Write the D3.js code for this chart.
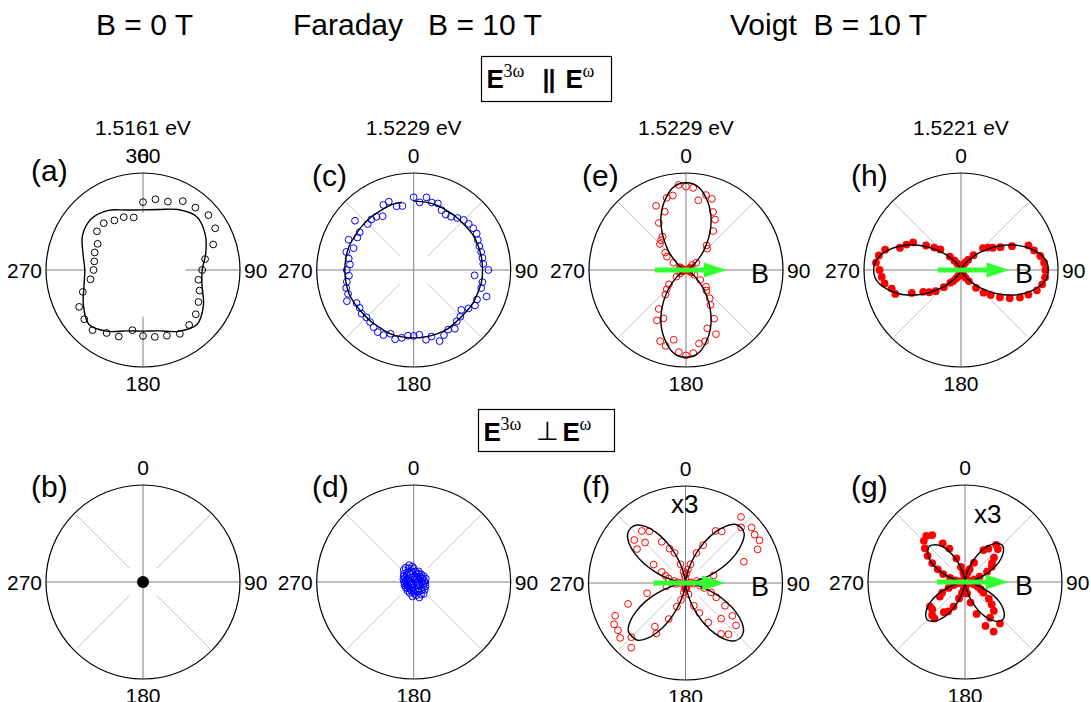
<!DOCTYPE html>
<html><head><meta charset="utf-8">
<script src="https://cdn.jsdelivr.net/npm/d3@7"></script>
<style>
body{margin:0;background:#fff;}
svg text{font-family:"Liberation Sans",Arial,Helvetica,sans-serif;fill:#000;}
</style></head><body>
<svg id="chart" width="1091" height="702" xmlns="http://www.w3.org/2000/svg"></svg>
<script>
// ---------------- data (angle in degrees, radius as fraction of outer ring) ----------------
const ANG10 = [0,10,20,30,40,50,60,70,80,90,100,110,120,130,140,150,160,170,180,190,200,210,220,230,240,250,260,270,280,290,300,310,320,330,340,350];
const ANG15 = [0,15,30,45,60,75,90,105,120,135,150,165,180,195,210,225,240,255,270,285,300,315,330,345];
const ANG5 = [0,5,10,15,20,25,30,35,40,45,50,55,60,65,70,75,80,85,90,95,100,105,110,115,120,125,130,135,140,145,150,155,160,165,170,175,
  180,185,190,195,200,205,210,215,220,225,230,235,240,245,250,255,260,265,270,275,280,285,290,295,300,305,310,315,320,325,330,335,340,345,350,355];

// (a) B = 0 T, parallel
const dataA = [0.70,0.74,0.75,0.82,0.84,0.88,0.86,0.77,0.65,0.61,0.58,0.62,0.66,0.71,0.74,0.76,0.72,0.70,
  0.68,0.63,0.73,0.75,0.81,0.79,0.76,0.66,0.55,0.51,0.51,0.53,0.54,0.62,0.63,0.59,0.58,0.55];
const fitA = [0.62,0.645,0.72,0.78,0.74,0.67,0.61,0.63,0.72,0.79,0.73,0.65,0.63,0.65,0.73,0.79,0.71,0.63,0.60,0.64,0.72,0.75,0.71,0.64];
// (b) B = 0 T, perpendicular
const dataB = [0];
const angB = [0];
// (c) Faraday, parallel
const dataC = [0.75,0.70,0.76,0.72,0.73,0.68,0.66,0.67,0.70,0.73,0.74,0.75,
  0.75,0.73,0.72,0.72,0.72,0.72,0.77,0.63,0.72,0.72,0.80,0.72,
  0.73,0.69,0.64,0.68,0.69,0.74,0.71,0.74,0.78,0.71,0.73,0.67,
  0.68,0.68,0.71,0.74,0.70,0.74,0.74,0.72,0.70,0.69,0.70,0.68,
  0.68,0.76,0.72,0.72,0.70,0.67,0.69,0.66,0.68,0.72,0.66,0.74,
  0.67,0.68,0.79,0.67,0.68,0.67,0.64,0.74,0.75,0.68,0.67,null];
const fitC = [0.71,0.71,0.71,0.70,0.70,0.70,0.71,0.71,0.71,0.71,0.71,0.70,0.70,0.69,0.69,0.70,0.70,0.70,
  0.70,0.70,0.70,0.69,0.69,0.69,0.70,0.71,0.71,0.71,0.71,0.71,0.70,0.70,0.70,0.70,0.71,0.71];
// (d) Faraday, perpendicular
const dataD = [0.14,0.06,0.11,0.03,0.09,0.12,0.05,0.10,0.07,0.11,0.04,0.09,
  0.12,0.06,0.10,0.13,0.05,0.11,0.08,0.12,0.04,0.10,0.13,0.07,
  0.11,0.14,0.06,0.12,0.16,0.09,0.15,0.11,0.17,0.08,0.14,0.12,
  0.10,0.15,0.06,0.09,0.12,0.04,0.08,0.11,0.05,0.09,0.07,0.10,
  0.03,0.08,0.10,0.05,0.09,0.07,0.10,0.04,0.08,0.11,0.06,0.10,
  0.12,0.07,0.13,0.10,0.16,0.12,0.17,0.09,0.15,0.18,0.11,0.16];
// (e) Voigt, parallel, 1.5229 eV
const dataE = [0.86,0.85,0.73,0.80,0.78,0.66,0.60,0.49,0.33,0.31,0.08,0.13,
  0.05,0.04,0.03,0.02,0.02,0.03,0.02,0.03,0.02,0.03,0.04,0.06,
  0.10,0.18,0.27,0.30,0.38,0.44,0.58,0.73,0.64,0.76,0.77,0.86,
  0.88,0.85,0.73,0.81,0.78,0.55,0.60,0.49,0.33,0.28,0.23,0.12,
  0.07,0.04,0.03,0.02,0.03,0.02,0.02,0.03,0.04,0.05,0.06,0.07,
  0.15,0.24,0.28,0.38,0.40,0.42,0.56,0.73,0.64,0.77,0.78,0.88];
const fitE = [0.90,0.89,0.85,0.78,0.70,0.61,0.51,0.41,0.31,0.23,0.15,0.10,0.06,0.03,0.01,0.00,0.00,0.00,
  0.00,0.00,0.00,0.00,0.01,0.03,0.06,0.10,0.15,0.23,0.31,0.41,0.51,0.61,0.70,0.78,0.85,0.89,
  0.90,0.89,0.85,0.78,0.70,0.61,0.51,0.41,0.31,0.23,0.15,0.10,0.06,0.03,0.01,0.00,0.00,0.00,
  0.00,0.00,0.00,0.00,0.01,0.03,0.06,0.10,0.15,0.23,0.31,0.41,0.51,0.61,0.70,0.78,0.85,0.89];
// (f) Voigt, perpendicular, 1.5229 eV (x3)
const dataF = [0.05,0.10,0.14,0.20,0.33,0.43,0.62,0.65,0.89,0.81,0.89,0.87,
  0.88,0.82,0.64,0.30,0.12,0.06,0.04,0.08,0.15,0.20,0.28,0.35,
  0.47,0.59,0.68,0.52,0.69,0.64,0.47,0.34,0.25,0.12,0.06,0.05,
  0.04,0.06,0.10,0.18,0.26,0.41,0.60,0.55,0.87,0.79,0.88,0.85,
  0.85,0.80,0.63,0.41,0.20,0.10,0.05,0.08,0.12,0.18,0.22,0.27,
  0.38,0.61,0.69,0.59,0.70,0.65,0.49,0.39,0.33,0.20,0.12,0.08];
const fitF = [0.00,0.02,0.09,0.20,0.33,0.47,0.60,0.71,0.79,0.81,0.79,0.71,0.60,0.47,0.33,0.20,0.09,0.02,
  0.00,0.02,0.09,0.20,0.33,0.47,0.60,0.71,0.78,0.80,0.78,0.71,0.60,0.47,0.33,0.20,0.09,0.02,
  0.00,0.02,0.09,0.19,0.32,0.46,0.59,0.70,0.77,0.78,0.77,0.70,0.59,0.46,0.32,0.19,0.09,0.02,
  0.00,0.02,0.09,0.20,0.33,0.47,0.60,0.71,0.78,0.80,0.78,0.71,0.60,0.47,0.33,0.20,0.09,0.02];
// (g) Voigt, perpendicular, 1.5221 eV (x3)
const dataG = [0.04,0.05,0.08,0.10,0.14,0.22,0.38,0.42,0.50,0.48,0.39,0.34,
  0.32,0.25,0.16,0.10,0.06,0.04,0.03,0.05,0.07,0.10,0.14,0.18,
  0.22,0.30,0.36,0.42,0.56,0.45,0.59,0.50,0.35,0.22,0.12,0.06,
  0.04,0.05,0.08,0.12,0.18,0.28,0.35,0.38,0.49,0.48,0.44,0.44,
  0.30,0.26,0.18,0.12,0.08,0.05,0.04,0.06,0.10,0.16,0.24,0.31,
  0.39,0.47,0.54,0.60,0.62,0.59,0.46,0.38,0.26,0.16,0.10,0.06];
const fitG = [0.00,0.02,0.06,0.13,0.22,0.31,0.40,0.47,0.52,0.54,0.52,0.47,0.40,0.31,0.22,0.13,0.06,0.02,
  0.00,0.02,0.06,0.13,0.22,0.32,0.41,0.48,0.53,0.55,0.53,0.48,0.41,0.32,0.22,0.13,0.06,0.02,
  0.00,0.02,0.06,0.13,0.22,0.32,0.41,0.48,0.53,0.55,0.53,0.48,0.41,0.32,0.22,0.13,0.06,0.02,
  0.00,0.02,0.06,0.13,0.22,0.31,0.40,0.46,0.50,0.52,0.50,0.46,0.40,0.31,0.22,0.13,0.06,0.02];
// (h) Voigt, parallel, 1.5221 eV
const dataH = [0.02,0.02,0.03,0.03,0.04,0.06,0.09,0.13,0.20,0.32,0.36,0.40,
  0.47,0.58,0.74,0.78,0.83,0.86,0.87,0.87,0.85,0.81,0.74,0.67,
  0.58,0.49,0.40,0.33,0.24,0.14,0.09,0.06,0.04,0.03,0.02,0.02,
  0.02,0.02,0.03,0.03,0.05,0.07,0.10,0.14,0.17,0.25,0.34,0.40,
  0.45,0.56,0.72,0.74,0.80,0.82,0.84,0.88,0.86,0.81,0.67,0.62,
  0.57,0.44,0.36,0.30,0.18,0.12,0.08,0.05,0.03,0.03,0.02,0.02];
const fitH = [0.00,0.00,0.00,0.00,0.01,0.03,0.06,0.10,0.15,0.23,0.31,0.41,0.51,0.61,0.70,0.78,0.85,0.89,
  0.90,0.89,0.85,0.78,0.70,0.61,0.51,0.41,0.31,0.23,0.15,0.10,0.06,0.03,0.01,0.00,0.00,0.00,
  0.00,0.00,0.00,0.00,0.01,0.03,0.06,0.10,0.15,0.23,0.31,0.41,0.51,0.61,0.70,0.78,0.85,0.89,
  0.90,0.89,0.85,0.78,0.70,0.61,0.51,0.41,0.31,0.23,0.15,0.10,0.06,0.03,0.01,0.00,0.00,0.00];

const columnTitles = ["B = 0 T", "Faraday   B = 10 T", "Voigt  B = 10 T"];
const energies = ["1.5161 eV", "1.5229 eV", "1.5229 eV", "1.5221 eV"];
const angleTicks = ["0", "90", "180", "270"];

// ---------------- layout ----------------
const svg = d3.select("#chart");
const R = 97;
const rScale = d3.scaleLinear().domain([0, 1]).range([0, R]);
const aScale = d3.scaleLinear().domain([0, 360]).range([0, 2 * Math.PI]);
const GREEN = "#33ff33";

const panels = [
  {lab:"(a)", cx:143, cy:270, lx:31, ly:181, top:["360","0"], ang:ANG10, r:dataA, mk:"open", col:"#000",
   fit:{ang:ANG15, r:fitA, closed:true}, spokeIn:[0.59,0.44,0.48,0.59], diag:false},
  {lab:"(b)", cx:143, cy:582, lx:31, ly:497, top:["0"], ang:angB, r:dataB, mk:"dot", col:"#000"},
  {lab:"(c)", cx:413.7, cy:270, lx:312, ly:186, top:["0"], ang:ANG5, r:dataC, mk:"open", col:"#0000ff",
   fit:{ang:ANG10, r:fitC, closed:false}},
  {lab:"(d)", cx:413.7, cy:582, lx:312, ly:497, top:["0"], ang:ANG5, r:dataD, mk:"open", col:"#0000ff"},
  {lab:"(e)", cx:686, cy:270, lx:582, ly:186, top:["0"], ang:ANG5, r:dataE, mk:"open", col:"#ff0000",
   fit:{ang:ANG5, r:fitE, closed:true}, arrow:[-0.32,0.42], bx:751},
  {lab:"(f)", cx:685.5, cy:583, lx:582, ly:497, top:["0"], ang:ANG5, r:dataF, mk:"open", col:"#ff0000",
   fit:{ang:ANG5, r:fitF, closed:true}, arrow:[-0.33,0.41], bx:751, x3:[671,513]},
  {lab:"(h)", cx:961, cy:270, lx:851, ly:186, top:["0"], ang:ANG5, r:dataH, mk:"fill", col:"#ff0000",
   fit:{ang:ANG5, r:fitH, closed:true}, arrow:[-0.24,0.50], bx:1015},
  {lab:"(g)", cx:965, cy:582, lx:851, ly:497, top:["0"], ang:ANG5, r:dataG, mk:"fill", col:"#ff0000",
   fit:{ang:ANG5, r:fitG, closed:true}, arrow:[-0.29,0.45], bx:1015, x3:[974,523]}
];

// column titles
svg.append("text").attr("x", 144.5).attr("y", 35).attr("text-anchor","middle")
  .style("font-size","30px").text(columnTitles[0]);
svg.append("text").attr("x", 293).attr("y", 35).attr("xml:space","preserve").style("white-space","pre")
  .style("font-size","30px").text(columnTitles[1]);
svg.append("text").attr("x", 730).attr("y", 35).attr("xml:space","preserve").style("white-space","pre")
  .style("font-size","30px").text(columnTitles[2]);

// energy labels
[143, 413.7, 686, 961].forEach((x, i) => {
  svg.append("text").attr("x", x).attr("y", 135).attr("text-anchor","middle")
    .style("font-size","21px").text(energies[i]);
});

// polarisation boxes
function polBox(x, y, w, h, sym, base) {
  svg.append("rect").attr("x", x).attr("y", y).attr("width", w).attr("height", h)
    .attr("fill","none").attr("stroke","#000").attr("stroke-width",1.2);
  const t = (tx, ty, s, size, bold, serif) => svg.append("text").attr("x", tx).attr("y", ty)
    .style("font-size", size + "px").style("font-weight", bold ? "bold" : "normal")
    .style("font-family", serif ? "'Liberation Serif','Times New Roman',serif" : null).text(s);
  t(x + 5, base, "E", 26, true);
  t(x + 22, base - 11, "3\u03c9", 18, false, true);
  if (sym === "par") t(x + 61, base, "||", 25, true).attr("letter-spacing", -1);
  else t(x + 57, base - 1, "\u22a5", 26, false);
  t(x + 84, base, "E", 26, true);
  t(x + 101, base - 11, "\u03c9", 18, false, true);
}
polBox(481.5, 56.5, 130, 45, "par", 88);
polBox(478.5, 409.5, 136, 42, "perp", 441);

const lineRad = d3.lineRadial().angle(d => aScale(d.a)).radius(d => rScale(d.r));

panels.forEach(p => {
  const g = svg.append("g").attr("transform", `translate(${p.cx},${p.cy})`);
  // diagonal spokes
  if (p.diag !== false) {
    [45, 135, 225, 315].forEach(a => {
      const p0 = d3.pointRadial(aScale(a), rScale(0.2)), p1 = d3.pointRadial(aScale(a), rScale(1));
      g.append("line").attr("x1", p0[0]).attr("y1", p0[1]).attr("x2", p1[0]).attr("y2", p1[1])
        .attr("stroke", "#c8c8c8").attr("stroke-width", 1);
    });
  }
  // main spokes
  [0, 90, 180, 270].forEach((a, i) => {
    const inner = p.spokeIn ? p.spokeIn[i] : 0;
    const p0 = d3.pointRadial(aScale(a), rScale(inner)), p1 = d3.pointRadial(aScale(a), rScale(1));
    g.append("line").attr("x1", p0[0]).attr("y1", p0[1]).attr("x2", p1[0]).attr("y2", p1[1])
      .attr("stroke", "#808080").attr("stroke-width", 1);
  });
  g.append("circle").attr("r", rScale(1)).attr("fill", "none").attr("stroke", "#000").attr("stroke-width", 1.2);

  // angle labels
  p.top.forEach(s => g.append("text").attr("x", 0).attr("y", -R - 10).attr("text-anchor","middle")
    .style("font-size","21px").text(s));
  g.append("text").attr("x", R + 4).attr("y", 8).style("font-size","21px").text(angleTicks[1]);
  g.append("text").attr("x", 0).attr("y", R + 24).attr("text-anchor","middle").style("font-size","21px").text(angleTicks[2]);
  g.append("text").attr("x", -R - 4).attr("y", 8).attr("text-anchor","end").style("font-size","21px").text(angleTicks[3]);

  // data
  const pts = p.ang.map((a, i) => ({a, r: p.r[i]})).filter(d => d.r !== null && d.r !== undefined);
  pts.forEach(d => {
    const xy = d3.pointRadial(aScale(d.a), rScale(d.r));
    const c = g.append("circle").attr("cx", xy[0]).attr("cy", xy[1]);
    if (p.mk === "open") c.attr("r", 3.4).attr("fill","none").attr("stroke", p.col).attr("stroke-width", 1);
    else if (p.mk === "fill") c.attr("r", 3.9).attr("fill", p.col);
    else c.attr("r", 6).attr("fill", p.col);
  });

  // fit
  if (p.fit) {
    const fp = p.fit.ang.map((a, i) => ({a, r: p.fit.r[i]}));
    g.append("path").attr("d", lineRad.curve(p.fit.closed ? d3.curveCatmullRomClosed.alpha(0.5) : d3.curveCatmullRom.alpha(0.5))(fp))
      .attr("fill","none").attr("stroke","#000").attr("stroke-width", 1.4);
  }

  // B arrow
  if (p.arrow) {
    const x0 = -rScale(-p.arrow[0]) , x1 = rScale(p.arrow[1]);
    const head = 23;
    g.append("line").attr("x1", x0).attr("y1", 0).attr("x2", x1 - head + 2).attr("y2", 0)
      .attr("stroke", GREEN).attr("stroke-width", 5);
    g.append("path").attr("d", `M${x1 - head},-7.5L${x1},0L${x1 - head},7.5Z`).attr("fill", GREEN);
    svg.append("text").attr("x", p.bx).attr("y", p.cy + 13).style("font-size","27px").text("B");
  }
  if (p.x3) svg.append("text").attr("x", p.x3[0]).attr("y", p.x3[1]).style("font-size","26px").text("x3");

  // panel label
  svg.append("text").attr("x", p.lx).attr("y", p.ly).style("font-size","30px").text(p.lab);
});
</script>
</body></html>
